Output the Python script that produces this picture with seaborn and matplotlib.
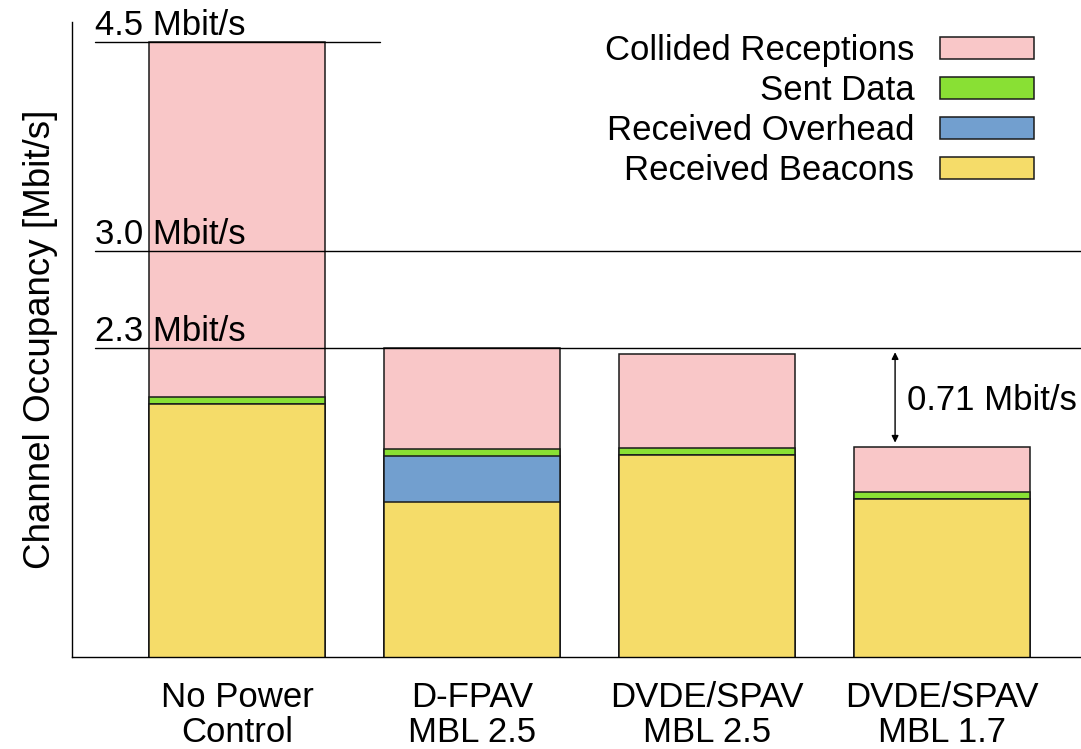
import numpy as np
import pandas as pd
import seaborn as sns
import matplotlib.pyplot as plt
from matplotlib.patches import Patch

# data (Mbit/s)
categories = ["No Power\nControl", "D-FPAV\nMBL 2.5", "DVDE/SPAV\nMBL 2.5", "DVDE/SPAV\nMBL 1.7"]
received_beacons = [1.90, 1.19, 1.53, 1.215]
received_overhead = [0.0, 0.335, 0.0, 0.0]
sent_data = [0.047, 0.048, 0.048, 0.05]
collided_receptions = [2.553, 0.727, 0.682, 0.325]

series_names = ["Received Beacons", "Received Overhead", "Sent Data", "Collided Receptions"]
series_colors = ["#F5DC69", "#729FCF", "#89E034", "#F9C7C8"]

ref_levels = [4.5, 3.0, 2.3]
ref_labels = ["4.5 Mbit/s", "3.0 Mbit/s", "2.3 Mbit/s"]
gap_label = "0.71 Mbit/s"


def main() -> None:
    sns.set_theme(style="white")
    plt.rcParams["font.family"] = ["Liberation Sans", "DejaVu Sans"]
    plt.rcParams["text.color"] = "black"
    plt.rcParams["axes.labelcolor"] = "black"
    plt.rcParams["xtick.color"] = "black"
    fs = 25

    df = pd.DataFrame({
        "category": categories,
        "Received Beacons": received_beacons,
        "Received Overhead": received_overhead,
        "Sent Data": sent_data,
        "Collided Receptions": collided_receptions,
    })
    cum = df[series_names].cumsum(axis=1)

    fig = plt.figure(figsize=(10.81, 7.49), dpi=100)
    ax = fig.add_axes([72 / 1081, 92 / 749, 1009 / 1081, 635 / 749])

    edge = "#1a1a1a"
    # stacked bars: draw cumulative tops from the highest layer down
    for name, color in zip(series_names[::-1], series_colors[::-1]):
        sns.barplot(x=df["category"], y=cum[name], color=color, width=0.75,
                    saturation=1, edgecolor=edge, linewidth=1.1, ax=ax)

    ax.set_xlim(-0.702, 3.591)
    ax.set_ylim(0.079, 4.644)

    # reference lines with labels
    x_lab = -0.604
    for lvl, lab in zip(ref_levels, ref_labels):
        x_end = 0.609 if lvl == 4.5 else 3.591
        ax.plot([x_lab, x_end], [lvl, lvl], color="black", lw=1.0, zorder=5)
        ax.annotate(lab, xy=(x_lab, lvl), xytext=(0, 5), textcoords="offset points",
                    ha="left", va="baseline", fontsize=fs, zorder=6)

    # gap arrow for last bar
    total_last = cum["Collided Receptions"].iloc[-1]
    ax.annotate("", xy=(2.8, ref_levels[-1]), xytext=(2.8, total_last),
                arrowprops=dict(arrowstyle="<|-|>", color="black", lw=1.0,
                                mutation_scale=10, shrinkA=3, shrinkB=3))
    ax.text(2.851, (ref_levels[-1] + total_last) / 2 - 0.02, gap_label, fontsize=fs,
            ha="left", va="center")

    ax.set_ylabel("Channel Occupancy [Mbit/s]", fontsize=26.5, labelpad=10)
    ax.set_xlabel("")
    ax.set_yticks([])
    ax.tick_params(axis="x", length=0, pad=17, labelsize=fs)
    for t in ax.get_xticklabels():
        t.set_linespacing(1.1)
    sns.despine(ax=ax, top=True, right=True)
    for s in ["left", "bottom"]:
        ax.spines[s].set_color("black")
        ax.spines[s].set_linewidth(1.0)

    handles = [Patch(facecolor=c, edgecolor=edge, linewidth=1.1)
               for c in series_colors[::-1]]
    ax.legend(handles, series_names[::-1], loc="upper right", frameon=False,
              markerfirst=False, fontsize=fs, handlelength=2.7, handleheight=0.6,
              handletextpad=0.75, labelspacing=0.2, borderpad=0, borderaxespad=0,
              bbox_to_anchor=(1034 / 1081, 1 - 34 / 749), bbox_transform=fig.transFigure)

    fig.savefig("out.png", dpi=100)
    plt.close(fig)


if __name__ == "__main__":
    main()
